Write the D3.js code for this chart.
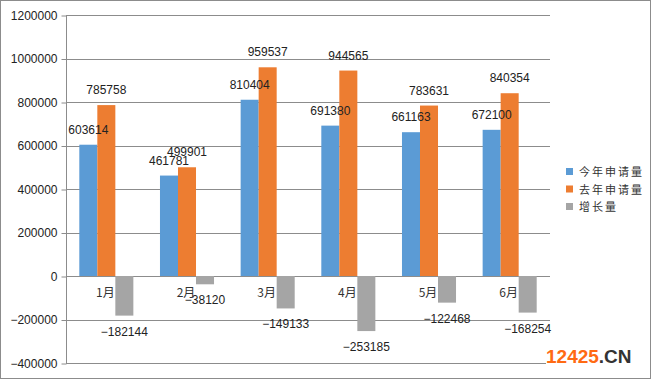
<!DOCTYPE html>
<html><head><meta charset="utf-8">
<script src="https://cdn.jsdelivr.net/npm/d3@7"></script>
<style>body{margin:0;background:#fff}svg{display:block}</style>
</head><body>
<svg id="c" width="651" height="379"></svg>
<script>
const categories = ["1月","2月","3月","4月","5月","6月"];
const seriesNames = ["今年申请量","去年申请量","增长量"];
const thisYear = [603614,461781,810404,691380,661163,672100];
const lastYear = [785758,499901,959537,944565,783631,840354];
const growth = [-182144,-38120,-149133,-253185,-122468,-168254];
const yTicks = [-400000,-200000,0,200000,400000,600000,800000,1000000,1200000];
const colors = ["#5B9BD5","#ED7D31","#A5A5A5"];
const seriesValues = [thisYear, lastYear, growth];

(function(){
const svg = d3.select("#c");
svg.append("rect").attr("x",0.5).attr("y",0.5).attr("width",650).attr("height",378)
  .attr("fill","#fff").attr("stroke","#8c8c8c");

const pL = 66, pR = 550, pT = 15, pB = 363;
const y = d3.scaleLinear().domain([-400000,1200000]).range([pB, pT]);
const x0 = d3.scaleBand().domain(categories).range([pL,pR]).paddingInner(0.33).paddingOuter(0.165);
const x1 = d3.scaleBand().domain(seriesNames).range([0, x0.bandwidth()]);
const fmt = v => v < 0 ? "\u2212" + Math.abs(v) : String(v);
const font = "'Liberation Sans', Arial, sans-serif";

// gridlines
svg.append("g").selectAll("line").data(yTicks).join("line")
  .attr("x1", pL).attr("x2", pR)
  .attr("y1", d => Math.round(y(d))+0.5).attr("y2", d => Math.round(y(d))+0.5)
  .attr("stroke","#8c8c8c").attr("stroke-width",1);

// y axis
const yAxis = d3.axisLeft(y).tickValues(yTicks).tickSize(5).tickPadding(4).tickFormat(fmt);
const ga = svg.append("g").attr("transform",`translate(${pL+0.5},0.5)`).call(yAxis);
ga.select(".domain").attr("stroke","#8c8c8c").attr("d",`M0,${pT}V${pB}`);
ga.selectAll(".tick line").attr("stroke","#8c8c8c");
ga.selectAll(".tick text").attr("fill","#222").style("font-family",font).style("font-size","12px");

// bars
const groups = svg.append("g").selectAll("g").data(categories).join("g")
  .attr("transform", c => `translate(${x0(c)},0)`);
seriesNames.forEach((s, si) => {
  groups.append("rect")
    .attr("x", x1(s)).attr("width", x1.bandwidth())
    .attr("y", (c,i) => y(Math.max(0, seriesValues[si][i])))
    .attr("height", (c,i) => Math.abs(y(seriesValues[si][i]) - y(0)))
    .attr("fill", colors[si]);
});

// category labels
svg.append("g").selectAll("text").data(categories).join("text")
  .attr("x", c => x0(c) + x0.bandwidth()/2 - 1).attr("y", y(0) + 21)
  .attr("text-anchor","middle").attr("fill","#333")
  .style("font-family","'Noto Sans CJK SC', sans-serif").style("font-size","12px")
  .text(c => c);

// value labels
seriesNames.forEach((s, si) => {
  groups.append("text")
    .attr("x", x1(s) + x1.bandwidth()/2)
    .attr("y", (c,i) => { const v = seriesValues[si][i]; return v >= 0 ? y(v) - 11 : y(v) + 20; })
    .attr("text-anchor","middle").attr("fill","#222")
    .style("font-family",font).style("font-size","12px")
    .text((c,i) => fmt(seriesValues[si][i]));
});

// legend
const lg = svg.append("g").attr("transform","translate(566,172)");
seriesNames.forEach((s, i) => {
  const g = lg.append("g").attr("transform",`translate(0,${i*17.5})`);
  g.append("rect").attr("x",0).attr("y",-4).attr("width",7).attr("height",7).attr("fill",colors[i]);
  g.append("text").attr("x",13).attr("y",4).attr("fill","#333")
    .style("font-family","'Noto Sans CJK SC', sans-serif").style("font-size","11px")
    .style("letter-spacing","2px").text(s);
});

// watermark
svg.append("rect").attr("x",546).attr("y",344).attr("width",96).attr("height",26).attr("fill","#fff");
const wm = svg.append("text").attr("x",546).attr("y",363)
  .style("font-family",font).style("font-size","19px").style("font-weight","bold");
wm.append("tspan").attr("fill","#FF6A13").text("12425");
wm.append("tspan").attr("fill","#333").text(".CN");
})();
</script>
</body></html>
